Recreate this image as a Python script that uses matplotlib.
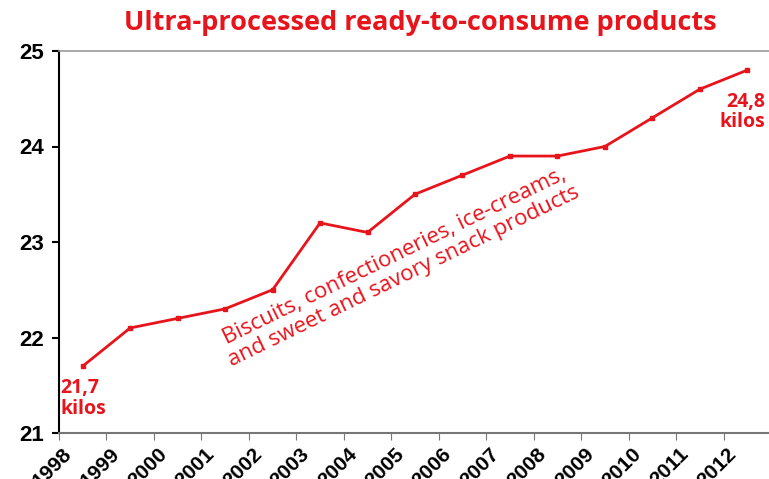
import numpy as np
import matplotlib.pyplot as plt

years = ["1998", "1999", "2000", "2001", "2002", "2003", "2004", "2005",
         "2006", "2007", "2008", "2009", "2010", "2011", "2012"]
kilos = [21.7, 22.1, 22.2, 22.3, 22.5, 23.2, 23.1, 23.5,
         23.7, 23.9, 23.9, 24.0, 24.3, 24.6, 24.8]

red = "#e8141c"
fig = plt.figure(figsize=(7.69, 4.79), dpi=100)
ax = fig.add_axes([59/769, 46/479, 712/769, 382/479])

x = np.arange(len(kilos))
ax.plot(x, kilos, color=red, lw=2, marker="s", ms=3.5)

ax.set_xlim(-0.5, len(kilos) - 0.5)
ax.set_ylim(21, 25)
ax.set_yticks([21, 22, 23, 24, 25])
ax.set_yticklabels(["21", "22", "23", "24", "25"], fontsize=16,
                   fontweight="bold", family="Liberation Sans")

# tick marks at category edges, labels slightly to the right of them
ax.set_xticks(x - 0.5)
ax.set_xticklabels([])
ax.set_xticks(x - 0.5 + 0.21, minor=True)
ax.set_xticklabels(years, minor=True, rotation=45, ha="right", va="center",
                   fontsize=15, fontweight="bold", family="Liberation Sans",
                   rotation_mode="anchor")
ax.tick_params(axis="x", which="major", colors="#777777", length=5)
ax.tick_params(axis="x", which="minor", length=0, pad=13, labelcolor="black")
ax.tick_params(axis="y", colors="black", length=5, width=1.5, pad=6)

ax.spines["right"].set_visible(False)
ax.spines["top"].set_color("#999999")
ax.spines["top"].set_linewidth(1.2)
ax.spines["bottom"].set_color("#777777")
ax.spines["bottom"].set_linewidth(1.5)
ax.spines["left"].set_color("black")
ax.spines["left"].set_linewidth(1.5)

fig.text(0.546, 0.952, "Ultra-processed ready-to-consume products",
         color=red, fontsize=19.5, fontweight="bold", family="Open Sans",
         ha="center", va="center")

ax.text(-0.47, 21.36, "21,7\nkilos", color=red, fontsize=14, fontweight="bold",
        family="Open Sans", ha="left", va="center", linespacing=1.05)
ax.text(14.38, 24.36, "24,8\nkilos", color=red, fontsize=14,
        fontweight="bold", family="Open Sans", ha="right", va="center",
        linespacing=1.05)
ax.text(6.67, 22.74, "Biscuits, confectioneries, ice-creams,\nand sweet and savory snack products",
        color=red, fontsize=16, family="Open Sans", rotation=26,
        ha="center", va="center", linespacing=1.1,
        rotation_mode="anchor")

fig.savefig("out.png", dpi=100)
